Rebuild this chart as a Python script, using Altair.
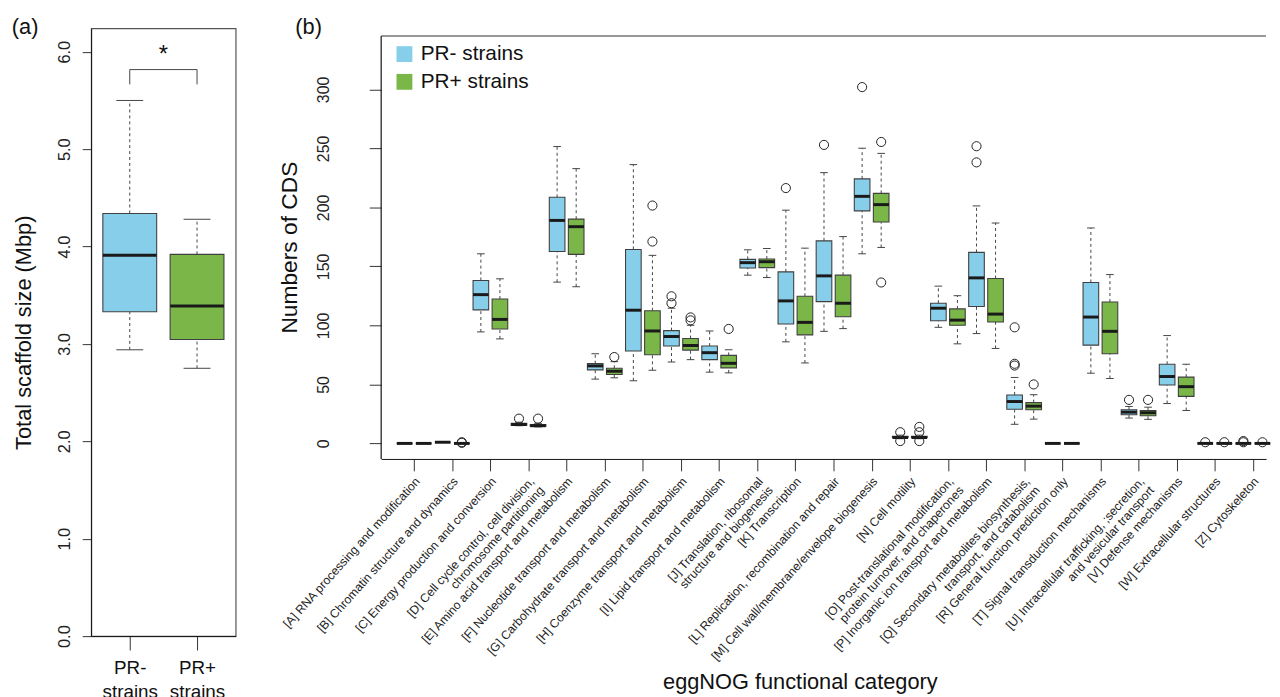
import altair as alt
import pandas as pd

FONT = "Liberation Sans"
BLUE = "#87CEEB"
GREEN = "#7AB648"
GROUPS = ["PR- strains", "PR+ strains"]

# ---------------- Panel (a): total scaffold size (Mbp) ----------------
a_low = [2.94, 2.75]
a_q1 = [3.33, 3.045]
a_med = [3.91, 3.39]
a_q3 = [4.34, 3.92]
a_high = [5.50, 4.28]

# ---------------- Panel (b): numbers of CDS per eggNOG category ----------------
cat_labels = [
    "[A] RNA processing and modification",
    "[B] Chromatin structure and dynamics",
    "[C] Energy production and conversion",
    "[D] Cell cycle control, cell division,|chromosome partitioning",
    "[E] Amino acid transport and metabolism",
    "[F] Nucleotide transport and metabolism",
    "[G] Carbohydrate transport and metabolism",
    "[H] Coenzyme transport and metabolism",
    "[I] Lipid transport and metabolism",
    "[J] Translation, ribosomal|structure and biogenesis",
    "[K] Transcription",
    "[L] Replication, recombination and repair",
    "[M] Cell wall/membrane/envelope biogenesis",
    "[N] Cell motility",
    "[O] Post-translational modification,|protein turnover, and chaperones",
    "[P] Inorganic ion transport and metabolism",
    "[Q] Secondary metabolites biosynthesis,|transport, and catabolism",
    "[R] General function prediction only",
    "[T] Signal transduction mechanisms",
    "[U] Intracellular trafficking, ;secretion,|and vesicular transport",
    "[V] Defense mechanisms",
    "[W] Extracellular structures",
    "[Z] Cytoskeleton",
]

#            A  B   C      D     E      F     G      H     I      J      K      L      M      N   O      P      Q     R  T      U     V     W  Z
minus_low = [0, 1, 94.5,  15,   136.7, 54.5, 53.1,  69.0, 60.4,  142.6, 86.1,  95.0,  160.7, 4, 98.4,  93.1,  16.2, 0, 59.5,  21.5, 33.8, 0, 0]
minus_q1 = [0, 1, 113.2, 15.5, 162.7, 62.3, 78.3,  82.5, 71.0,  148.7, 101.2, 120.2, 197.1, 5, 104.0, 116.0, 29.0, 0, 83.3,  24.3, 49.5, 0, 0]
minus_med = [0, 1, 126.1, 16,   189.0, 65.7, 112.9, 90.6, 76.9,  153.2, 120.8, 142.0, 209.4, 5, 114.6, 140.3, 35.5, 0, 107.1, 26.5, 56.7, 0, 0]
minus_q3 = [0, 1, 138.1, 17,   208.6, 67.6, 164.4, 95.6, 82.5,  156.0, 145.4, 171.7, 224.2, 6, 118.8, 161.9, 41.1, 0, 136.4, 28.5, 67.1, 0, 0]
minus_high = [0, 1, 160.7, 18,   251.6, 76.0, 236.3, 114.6, 95.3, 164.1, 197.7, 229.5, 250.2, 7, 133.3, 201.3, 55.9, 0, 182.6, 31.3, 91.4, 0, 0]

plus_low = [0, 0, 88.6,  14,   132.8, 55.6, 62.0,  71.0,  59.8, 140.6, 68.2,  97.3,  166.1, 4, 84.4,  80.5,  20.6, 0, 55.0,  20.4, 27.9, 0, 0]
plus_q1 = [0, 0, 97.0,  14.5, 160.2, 58.4, 75.2,  79.1,  64.0, 149.0, 92.0,  107.3, 187.6, 5, 100.1, 102.9, 28.5, 0, 76.0,  23.4, 39.9, 0, 0]
plus_med = [0, 0, 105.1, 15,   183.7, 61.2, 95.3,  83.0,  67.9, 154.0, 102.6, 118.8, 202.4, 5, 104.5, 109.6, 31.6, 0, 95.0,  26.0, 48.1, 0, 0]
plus_q3 = [0, 0, 122.4, 16,   190.1, 63.7, 112.4, 88.9,  74.6, 156.3, 124.7, 142.6, 211.9, 6, 114.0, 139.8, 34.6, 0, 119.9, 27.9, 56.2, 0, 0]
plus_high = [0, 0, 139.5, 17,   232.9, 69.3, 159.4, 100.1, 79.4, 165.2, 165.5, 175.3, 245.8, 7, 125.2, 186.8, 41.3, 0, 143.1, 30.7, 67.1, 0, 0]

# outliers: category index (1-based) and value
minus_out_cat = [4, 8, 8, 11, 12, 13, 14, 14, 16, 16, 17, 17, 17, 20, 22, 23, 23]
minus_out_val = [21, 118.8, 124.7, 216.4, 253.0, 302.0, 9.5, 2, 238.2, 251.9, 66, 67.5, 98.4, 36.9, 1, 1, 2]
plus_out_cat = [2, 2, 4, 6, 7, 7, 8, 8, 9, 13, 13, 14, 14, 14, 17, 20, 22, 23]
plus_out_val = [1, 0.5, 21, 73.2, 171.1, 201.6, 104.3, 106.8, 97.0, 136.4, 255.5, 2, 9.5, 14, 50.0, 36.9, 1, 1]

# ---------------- build tables ----------------
OFF = 0.25
HALF_B = 0.205
CAP_B = 0.1
rows = []
stats = {
    GROUPS[0]: (minus_low, minus_q1, minus_med, minus_q3, minus_high, -OFF),
    GROUPS[1]: (plus_low, plus_q1, plus_med, plus_q3, plus_high, OFF),
}
for g, (lo, q1, md, q3, hi, off) in stats.items():
    for i in range(len(cat_labels)):
        p = i + 1 + off
        rows.append(dict(group=g, pos=p, lo=p - HALF_B, hi=p + HALF_B,
                         clo=p - CAP_B, chi=p + CAP_B,
                         low=lo[i], q1=q1[i], med=md[i], q3=q3[i], high=hi[i]))
df_b = pd.DataFrame(rows)
out_rows = [dict(pos=c - OFF, val=v) for c, v in zip(minus_out_cat, minus_out_val)]
out_rows += [dict(pos=c + OFF, val=v) for c, v in zip(plus_out_cat, plus_out_val)]
df_out = pd.DataFrame(out_rows)

HALF_A = 0.4
CAP_A = 0.2
df_a = pd.DataFrame([
    dict(group=GROUPS[k], pos=k + 1, lo=k + 1 - HALF_A, hi=k + 1 + HALF_A,
         clo=k + 1 - CAP_A, chi=k + 1 + CAP_A,
         low=a_low[k], q1=a_q1[k], med=a_med[k], q3=a_q3[k], high=a_high[k])
    for k in range(2)
])

WH = dict(color="#444444", strokeWidth=1)
DASH = dict(color="#444444", strokeWidth=1, strokeDash=[3, 3])

# ---------------- panel (a) ----------------
xa = alt.Scale(domain=[0.426, 2.574], nice=False, zero=False)
ya = alt.Scale(domain=[0, 6.24], nice=False, zero=False)
xa_axis = alt.Axis(values=[1, 2], title=None, grid=False, tickSize=14,
                   labelExpr="datum.value == 1 ? ['PR-', 'strains'] : ['PR+', 'strains']",
                   labelFontSize=19, labelLineHeight=24.5, labelBaseline="top",
                   labelAlign="center", labelPadding=9, labelFlush=False,
                   labelOverlap=False, labelColor="#111", domainColor="#111",
                   tickColor="#333")
ya_axis = alt.Axis(values=[0, 1, 2, 3, 4, 5, 6], format=".1f", grid=False,
                   tickSize=9, labelAngle=270, labelAlign="center",
                   labelBaseline="bottom", labelPadding=10, labelFontSize=16.5,
                   labelColor="#222", domainColor="#111", tickColor="#333",
                   title="Total scaffold size (Mbp)", titleFontSize=22,
                   titleFontWeight="normal", titleX=-68.7, titleBaseline="middle",
                   titleColor="#111")

base_a = alt.Chart(df_a)
a_wh_hi = base_a.mark_rule(**DASH).encode(
    x=alt.X("pos:Q", scale=xa, axis=xa_axis),
    y=alt.Y("q3:Q", scale=ya, axis=ya_axis), y2="high:Q")
a_wh_lo = base_a.mark_rule(**DASH).encode(
    x=alt.X("pos:Q", scale=xa), y=alt.Y("low:Q", scale=ya), y2="q1:Q")
a_cap_hi = base_a.mark_rule(**WH).encode(
    x=alt.X("clo:Q", scale=xa), x2="chi:Q", y=alt.Y("high:Q", scale=ya))
a_cap_lo = base_a.mark_rule(**WH).encode(
    x=alt.X("clo:Q", scale=xa), x2="chi:Q", y=alt.Y("low:Q", scale=ya))
a_box = base_a.mark_bar(stroke="#404040", strokeWidth=1.1).encode(
    x=alt.X("lo:Q", scale=xa), x2="hi:Q",
    y=alt.Y("q1:Q", scale=ya), y2="q3:Q",
    color=alt.Color("group:N", scale=alt.Scale(domain=GROUPS, range=[BLUE, GREEN]),
                    legend=None))
a_med = base_a.mark_rule(color="#1a1a1a", strokeWidth=3).encode(
    x=alt.X("lo:Q", scale=xa), x2="hi:Q", y=alt.Y("med:Q", scale=ya))

ann = alt.Chart(pd.DataFrame({"k": [0]}))
br_h = ann.mark_rule(**WH).encode(x=alt.datum(1), x2=alt.datum(2), y=alt.datum(5.817))
br_l = ann.mark_rule(**WH).encode(x=alt.datum(1), y=alt.datum(5.665), y2=alt.datum(5.817))
br_r = ann.mark_rule(**WH).encode(x=alt.datum(2), y=alt.datum(5.665), y2=alt.datum(5.817))
star = ann.mark_text(text="*", fontSize=24, font=FONT, baseline="middle", color="#111").encode(
    x=alt.datum(1.5), y=alt.datum(5.97))
lab_a = ann.mark_text(text="(a)", fontSize=22, font=FONT, baseline="middle", color="#111").encode(
    x=alt.datum(-0.555), y=alt.datum(6.25))

panel_a = alt.layer(a_wh_hi, a_wh_lo, a_cap_hi, a_cap_lo, a_box, a_med,
                    br_h, br_l, br_r, star, lab_a).properties(
    width=146, height=614,
    view=alt.ViewBackground(stroke="#555555", strokeWidth=1.2))

# ---------------- panel (b) ----------------
XMIN, XMAX = 0.135, 23.345
YMIN, YMAX, YFRAME = -13.17, 351.76, 345.3
xb = alt.Scale(domain=[XMIN, XMAX], nice=False, zero=False)
yb = alt.Scale(domain=[YMIN, YMAX], nice=False, zero=False)
labels_js = "[" + ",".join("'" + s + "'" for s in cat_labels) + "]"
xb_axis = alt.Axis(values=list(range(1, len(cat_labels) + 1)),
                   labelExpr="split(" + labels_js + "[datum.value - 1], '|')",
                   labelAngle=312, labelAlign="right", labelBaseline="middle",
                   labelFontSize=12.3, labelLineHeight=13.5, labelPadding=8,
                   labelOffset=3, labelOverlap=False, labelFlush=False,
                   labelBound=False, labelLimit=600, labelColor="#222",
                   tickSize=12, grid=False, domainColor="#111", tickColor="#333",
                   title="eggNOG functional category", titleFontSize=22,
                   titleFontWeight="normal", titleX=423, titleY=225,
                   titleBaseline="middle", titleAlign="center", titleColor="#111")
yb_axis = alt.Axis(values=[0, 50, 100, 150, 200, 250, 300], grid=False,
                   domain=False, tickSize=12, labelAngle=270, labelAlign="center",
                   labelBaseline="bottom", labelPadding=38, labelFontSize=16,
                   labelColor="#222", tickColor="#333",
                   title="Numbers of CDS", titleFontSize=23, titleFontWeight="normal",
                   titleX=-93, titleY=221, titleBaseline="middle", titleColor="#111")

base_b = alt.Chart(df_b)
b_wh_hi = base_b.mark_rule(**DASH).encode(
    x=alt.X("pos:Q", scale=xb, axis=xb_axis),
    y=alt.Y("q3:Q", scale=yb, axis=yb_axis), y2="high:Q")
b_wh_lo = base_b.mark_rule(**DASH).encode(
    x=alt.X("pos:Q", scale=xb), y=alt.Y("low:Q", scale=yb), y2="q1:Q")
b_cap_hi = base_b.mark_rule(**WH).encode(
    x=alt.X("clo:Q", scale=xb), x2="chi:Q", y=alt.Y("high:Q", scale=yb))
b_cap_lo = base_b.mark_rule(**WH).encode(
    x=alt.X("clo:Q", scale=xb), x2="chi:Q", y=alt.Y("low:Q", scale=yb))
b_box = base_b.mark_bar(stroke="#404040", strokeWidth=1.1).encode(
    x=alt.X("lo:Q", scale=xb), x2="hi:Q",
    y=alt.Y("q1:Q", scale=yb), y2="q3:Q",
    color=alt.Color("group:N", scale=alt.Scale(domain=GROUPS, range=[BLUE, GREEN]),
                    legend=alt.Legend(title=None, orient="none", legendX=13, legendY=15.5,
                                      symbolType="square", symbolSize=256,
                                      symbolStrokeWidth=0, symbolOpacity=1,
                                      labelFontSize=21, labelFont=FONT,
                                      labelColor="#111", labelOffset=6,
                                      rowPadding=6, padding=0)))
b_med = base_b.mark_rule(color="#1a1a1a", strokeWidth=3).encode(
    x=alt.X("lo:Q", scale=xb), x2="hi:Q", y=alt.Y("med:Q", scale=yb))
b_out = alt.Chart(df_out).mark_point(shape="circle", filled=False, size=85,
                                     color="#222222", strokeWidth=1, opacity=1).encode(
    x=alt.X("pos:Q", scale=xb), y=alt.Y("val:Q", scale=yb))

fr_top = ann.mark_rule(color="#333333", strokeWidth=1.2).encode(
    x=alt.datum(XMIN), x2=alt.datum(XMAX), y=alt.datum(YFRAME))
fr_left = ann.mark_rule(color="#111111", strokeWidth=1.2).encode(
    x=alt.datum(XMIN), y=alt.datum(YMIN), y2=alt.datum(YFRAME))
lab_b = ann.mark_text(text="(b)", fontSize=22, font=FONT, baseline="middle", color="#111").encode(
    x=alt.datum(-1.769), y=alt.datum(352.5))

panel_b = alt.layer(b_wh_hi, b_wh_lo, b_cap_hi, b_cap_lo, b_box, b_med, b_out,
                    fr_top, fr_left, lab_b).properties(
    width=894, height=435,
    view=alt.ViewBackground(strokeWidth=0))

chart = alt.hconcat(panel_a, panel_b, spacing=42).resolve_scale(
    color="independent").resolve_legend(color="independent").properties(
    padding={"left": 3, "top": 4, "right": 0, "bottom": 0}
).configure(font=FONT).configure_axis(labelFont=FONT, titleFont=FONT)

chart.save("out.html", embed_options={"renderer": "svg", "actions": False})
